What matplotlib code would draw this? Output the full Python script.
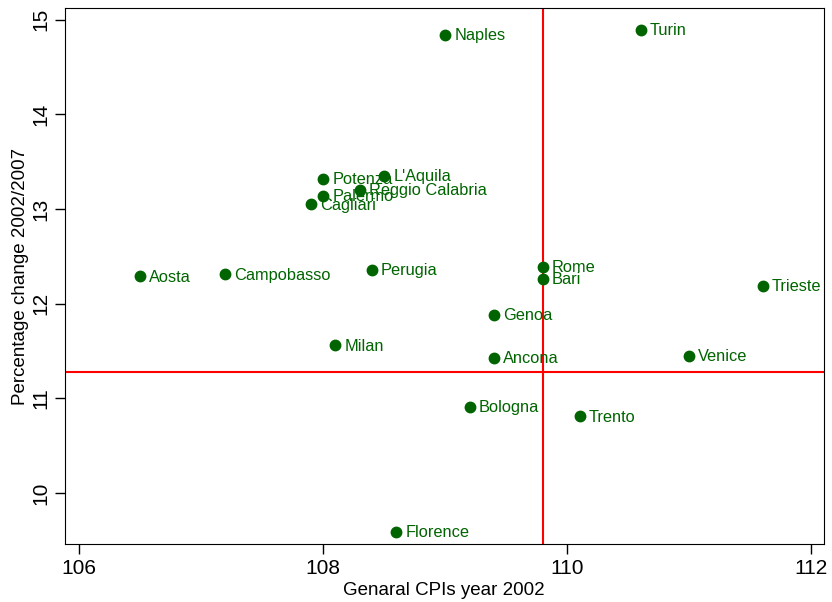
import matplotlib.pyplot as plt

plt.rcParams['font.family'] = ['Liberation Sans', 'DejaVu Sans']

cities = ['Naples', 'Turin', 'Potenza', "L'Aquila", 'Reggio Calabria', 'Palermo',
          'Cagliari', 'Aosta', 'Campobasso', 'Perugia', 'Rome', 'Bari', 'Trieste',
          'Genoa', 'Milan', 'Ancona', 'Venice', 'Bologna', 'Trento', 'Florence']
cpi_2002 = [109.0, 110.6, 108.0, 108.5, 108.3, 108.0,
            107.9, 106.5, 107.2, 108.4, 109.8, 109.8, 111.6,
            109.4, 108.1, 109.4, 111.0, 109.2, 110.1, 108.6]
pct_change = [14.84, 14.89, 13.32, 13.35, 13.20, 13.14,
              13.05, 12.29, 12.31, 12.36, 12.39, 12.26, 12.19,
              11.88, 11.56, 11.43, 11.45, 10.91, 10.81, 9.59]

mean_x = 109.8
mean_y = 11.28
green = '#006400'

fig = plt.figure(figsize=(8.32, 6.02), dpi=100)
ax = fig.add_axes([0.078, 0.096, 0.912, 0.891])

ax.axvline(mean_x, color='red', lw=1.5, zorder=1)
ax.axhline(mean_y, color='red', lw=1.5, zorder=1)
ax.plot(cpi_2002, pct_change, 'o', color=green, markersize=7.5, zorder=3)
for name, x, y in zip(cities, cpi_2002, pct_change):
    ax.annotate(name, (x, y), xytext=(6.5, -0.5), textcoords='offset points',
                va='center', ha='left', color=green, fontsize=11.8, zorder=4)

ax.set_xlim(105.885, 112.1)
ax.set_ylim(9.46, 15.127)
ax.set_xticks([106, 108, 110, 112])
ax.set_yticks([10, 11, 12, 13, 14, 15])
ax.tick_params(labelsize=15, length=7, width=1, direction='out')
for lbl in ax.get_yticklabels():
    lbl.set_rotation(90)
    lbl.set_va('center')
ax.set_xlabel('Genaral CPIs year 2002', fontsize=13.5, labelpad=3)
ax.set_ylabel('Percentage change 2002/2007', fontsize=13.5, labelpad=2)

fig.savefig('out.png', dpi=100)
